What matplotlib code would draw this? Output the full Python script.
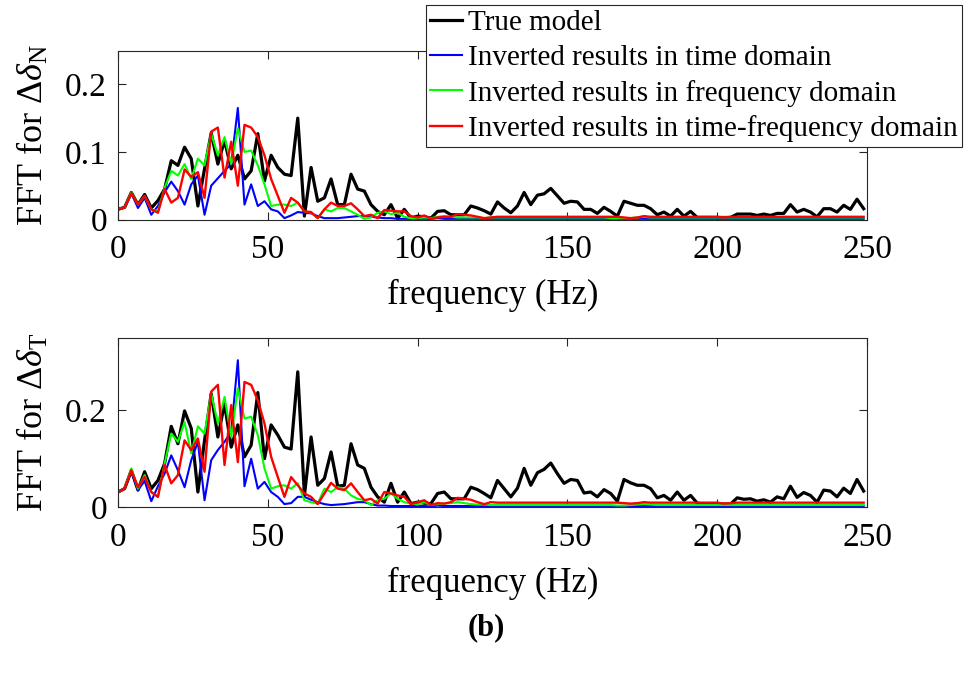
import numpy as np
import matplotlib
matplotlib.use("Agg")
import matplotlib.pyplot as plt

plt.rcParams['font.family'] = ['Liberation Serif', 'DejaVu Serif']
plt.rcParams['mathtext.fontset'] = 'custom'
plt.rcParams['mathtext.rm'] = 'Liberation Serif'
plt.rcParams['mathtext.it'] = 'Liberation Serif:italic'
plt.rcParams['mathtext.bf'] = 'Liberation Serif:bold'

# frequency grid (df = 500/225 Hz, 113 bins)
freq = np.arange(113) * 500 / 225

# FFT for delta_N (top panel)
top_true = [0.015, 0.018, 0.040, 0.022, 0.037, 0.017, 0.028, 0.045, 0.087, 0.080,
            0.107, 0.090, 0.020, 0.075, 0.128, 0.082, 0.117, 0.075, 0.095, 0.060,
            0.072, 0.127, 0.057, 0.095, 0.077, 0.067, 0.065, 0.150, 0.005, 0.077,
            0.027, 0.032, 0.060, 0.022, 0.022, 0.067, 0.045, 0.042, 0.022, 0.012,
            0.007, 0.022, 0.002, 0.015, 0.002, 0.005, 0.004, 0.002, 0.012, 0.013,
            0.007, 0.007, 0.007, 0.020, 0.017, 0.013, 0.008, 0.026, 0.017, 0.010,
            0.020, 0.040, 0.022, 0.036, 0.038, 0.046, 0.035, 0.024, 0.027, 0.026,
            0.015, 0.015, 0.009, 0.018, 0.012, 0.005, 0.027, 0.024, 0.021, 0.021,
            0.016, 0.007, 0.011, 0.005, 0.015, 0.005, 0.012, 0.003, 0.003, 0.003,
            0.003, 0.003, 0.003, 0.008, 0.008, 0.008, 0.006, 0.008, 0.006, 0.009,
            0.009, 0.022, 0.011, 0.015, 0.011, 0.004, 0.016, 0.016, 0.011, 0.021,
            0.015, 0.030, 0.016]
top_time = [0.015, 0.018, 0.039, 0.017, 0.032, 0.007, 0.020, 0.040, 0.056, 0.042,
            0.022, 0.052, 0.065, 0.007, 0.050, 0.061, 0.072, 0.082, 0.165, 0.022,
            0.052, 0.020, 0.027, 0.015, 0.012, 0.002, 0.006, 0.011, 0.010, 0.009,
            0.005, 0.002, 0.002, 0.002, 0.003, 0.004, 0.005, 0.005, 0.004, 0.003,
            0.002, 0.002, 0.001, 0.001, 0.001, 0.001, 0.001, 0.001, 0.002, 0.001,
            0.001, 0.001, 0.001, 0.001, 0.001, 0.001, 0.001, 0.001, 0.001, 0.001,
            0.001, 0.001, 0.001, 0.001, 0.001, 0.001, 0.001, 0.001, 0.001, 0.001,
            0.001, 0.001, 0.001, 0.001, 0.001, 0.001, 0.001, 0.001, 0.001, 0.001,
            0.001, 0.001, 0.001, 0.001, 0.001, 0.001, 0.001, 0.001, 0.001, 0.001,
            0.001, 0.001, 0.001, 0.001, 0.001, 0.001, 0.001, 0.001, 0.001, 0.001,
            0.001, 0.001, 0.001, 0.001, 0.001, 0.001, 0.001, 0.001, 0.001, 0.001,
            0.001, 0.001, 0.001]
top_freq = [0.015, 0.018, 0.040, 0.022, 0.035, 0.015, 0.012, 0.047, 0.072, 0.065,
            0.082, 0.060, 0.090, 0.080, 0.127, 0.095, 0.122, 0.082, 0.135, 0.100,
            0.102, 0.080, 0.052, 0.020, 0.022, 0.022, 0.020, 0.025, 0.012, 0.010,
            0.002, 0.015, 0.012, 0.017, 0.017, 0.012, 0.007, 0.001, 0.003, 0.010,
            0.012, 0.008, 0.010, 0.004, 0.002, 0.002, 0.003, 0.002, 0.004, 0.005,
            0.004, 0.003, 0.003, 0.003, 0.003, 0.002, 0.003, 0.003, 0.003, 0.003,
            0.003, 0.003, 0.003, 0.003, 0.003, 0.003, 0.003, 0.003, 0.003, 0.003,
            0.003, 0.003, 0.003, 0.003, 0.002, 0.002, 0.002, 0.002, 0.003, 0.004,
            0.003, 0.003, 0.003, 0.003, 0.003, 0.003, 0.003, 0.003, 0.003, 0.003,
            0.003, 0.003, 0.003, 0.003, 0.003, 0.003, 0.003, 0.003, 0.003, 0.003,
            0.003, 0.003, 0.003, 0.003, 0.003, 0.003, 0.003, 0.003, 0.003, 0.003,
            0.003, 0.003, 0.003]
top_tf = [0.015, 0.018, 0.039, 0.022, 0.035, 0.015, 0.010, 0.045, 0.025, 0.032,
          0.074, 0.063, 0.070, 0.032, 0.130, 0.136, 0.062, 0.115, 0.050, 0.140,
          0.136, 0.122, 0.095, 0.060, 0.035, 0.010, 0.032, 0.025, 0.012, 0.011,
          0.002, 0.015, 0.025, 0.020, 0.020, 0.024, 0.015, 0.005, 0.007, 0.002,
          0.014, 0.013, 0.012, 0.012, 0.005, 0.003, 0.006, 0.001, 0.003, 0.004,
          0.004, 0.008, 0.007, 0.006, 0.004, 0.002, 0.003, 0.004, 0.004, 0.004,
          0.004, 0.004, 0.004, 0.004, 0.004, 0.004, 0.004, 0.004, 0.004, 0.004,
          0.004, 0.004, 0.004, 0.004, 0.004, 0.004, 0.003, 0.002, 0.003, 0.005,
          0.004, 0.004, 0.004, 0.004, 0.004, 0.004, 0.004, 0.004, 0.004, 0.004,
          0.004, 0.003, 0.004, 0.004, 0.004, 0.004, 0.004, 0.004, 0.004, 0.004,
          0.004, 0.004, 0.004, 0.004, 0.004, 0.004, 0.004, 0.004, 0.004, 0.004,
          0.004, 0.004, 0.004]

# FFT for delta_T (bottom panel)
bot_true = [0.031, 0.038, 0.076, 0.035, 0.073, 0.038, 0.055, 0.090, 0.167, 0.131,
            0.199, 0.163, 0.031, 0.138, 0.235, 0.145, 0.214, 0.124, 0.170, 0.104,
            0.128, 0.237, 0.100, 0.170, 0.149, 0.124, 0.120, 0.280, 0.024, 0.145,
            0.045, 0.059, 0.114, 0.043, 0.045, 0.131, 0.087, 0.080, 0.041, 0.021,
            0.010, 0.049, 0.010, 0.031, 0.007, 0.010, 0.008, 0.007, 0.028, 0.031,
            0.017, 0.017, 0.017, 0.041, 0.036, 0.028, 0.019, 0.055, 0.038, 0.021,
            0.039, 0.080, 0.045, 0.071, 0.078, 0.091, 0.069, 0.049, 0.057, 0.055,
            0.029, 0.031, 0.021, 0.036, 0.028, 0.012, 0.057, 0.050, 0.045, 0.045,
            0.038, 0.019, 0.024, 0.014, 0.031, 0.014, 0.024, 0.008, 0.006, 0.006,
            0.006, 0.006, 0.006, 0.019, 0.016, 0.017, 0.012, 0.015, 0.010, 0.021,
            0.017, 0.043, 0.020, 0.030, 0.024, 0.010, 0.035, 0.033, 0.021, 0.039,
            0.028, 0.057, 0.033]
bot_time = [0.031, 0.038, 0.073, 0.035, 0.054, 0.012, 0.043, 0.069, 0.107, 0.076,
            0.041, 0.097, 0.135, 0.014, 0.097, 0.118, 0.135, 0.156, 0.304, 0.043,
            0.100, 0.038, 0.052, 0.031, 0.021, 0.006, 0.008, 0.021, 0.021, 0.015,
            0.010, 0.006, 0.004, 0.005, 0.006, 0.008, 0.010, 0.010, 0.006, 0.003,
            0.003, 0.002, 0.002, 0.002, 0.002, 0.002, 0.002, 0.001, 0.003, 0.002,
            0.002, 0.002, 0.002, 0.002, 0.002, 0.002, 0.002, 0.002, 0.002, 0.002,
            0.002, 0.002, 0.002, 0.002, 0.002, 0.002, 0.002, 0.002, 0.002, 0.002,
            0.002, 0.002, 0.002, 0.002, 0.002, 0.002, 0.002, 0.002, 0.002, 0.002,
            0.002, 0.002, 0.002, 0.002, 0.002, 0.002, 0.002, 0.002, 0.002, 0.002,
            0.002, 0.002, 0.002, 0.002, 0.002, 0.002, 0.002, 0.002, 0.002, 0.002,
            0.002, 0.002, 0.002, 0.002, 0.002, 0.002, 0.002, 0.002, 0.002, 0.002,
            0.002, 0.002, 0.002]
bot_freq = [0.031, 0.038, 0.080, 0.038, 0.066, 0.031, 0.021, 0.090, 0.152, 0.135,
            0.176, 0.111, 0.167, 0.152, 0.235, 0.173, 0.228, 0.145, 0.246, 0.183,
            0.187, 0.149, 0.080, 0.038, 0.043, 0.045, 0.038, 0.049, 0.014, 0.010,
            0.007, 0.038, 0.031, 0.041, 0.038, 0.024, 0.017, 0.014, 0.004, 0.014,
            0.017, 0.028, 0.017, 0.010, 0.007, 0.005, 0.010, 0.004, 0.006, 0.007,
            0.008, 0.010, 0.008, 0.006, 0.005, 0.005, 0.004, 0.004, 0.004, 0.004,
            0.004, 0.004, 0.004, 0.004, 0.004, 0.004, 0.004, 0.004, 0.004, 0.004,
            0.004, 0.004, 0.004, 0.004, 0.004, 0.003, 0.003, 0.004, 0.005, 0.006,
            0.005, 0.004, 0.004, 0.004, 0.004, 0.004, 0.004, 0.004, 0.004, 0.004,
            0.004, 0.004, 0.004, 0.004, 0.004, 0.004, 0.004, 0.004, 0.004, 0.004,
            0.004, 0.004, 0.004, 0.004, 0.004, 0.004, 0.004, 0.004, 0.004, 0.004,
            0.004, 0.004, 0.004]
bot_tf = [0.031, 0.038, 0.076, 0.041, 0.062, 0.031, 0.021, 0.087, 0.049, 0.066,
          0.138, 0.118, 0.142, 0.073, 0.239, 0.253, 0.087, 0.211, 0.093, 0.259,
          0.253, 0.221, 0.173, 0.104, 0.062, 0.021, 0.062, 0.045, 0.028, 0.021,
          0.006, 0.028, 0.050, 0.038, 0.035, 0.049, 0.031, 0.014, 0.017, 0.007,
          0.031, 0.028, 0.024, 0.021, 0.006, 0.010, 0.014, 0.004, 0.008, 0.007,
          0.010, 0.019, 0.017, 0.015, 0.010, 0.006, 0.010, 0.009, 0.009, 0.009,
          0.009, 0.009, 0.009, 0.009, 0.009, 0.009, 0.009, 0.009, 0.009, 0.009,
          0.009, 0.009, 0.009, 0.009, 0.009, 0.009, 0.008, 0.007, 0.008, 0.010,
          0.009, 0.009, 0.009, 0.009, 0.009, 0.009, 0.009, 0.009, 0.009, 0.009,
          0.009, 0.007, 0.008, 0.009, 0.009, 0.009, 0.009, 0.009, 0.009, 0.009,
          0.009, 0.009, 0.009, 0.009, 0.009, 0.009, 0.009, 0.009, 0.009, 0.009,
          0.009, 0.009, 0.009]

labels = ["True model",
          "Inverted results in time domain",
          "Inverted results in frequency domain",
          "Inverted results in time-frequency domain"]
colors = ["black", "#0000ff", "#00ff00", "#ff0000"]
widths = [2.3, 1.5, 1.5, 1.7]

W, H = 973, 675
fig = plt.figure(figsize=(W / 100, H / 100), dpi=100)
ax1 = fig.add_axes([118 / W, 1 - 219.5 / H, (867 - 118) / W, (219.5 - 50.5) / H])
ax2 = fig.add_axes([118 / W, 1 - 507 / H, (867 - 118) / W, (507 - 338) / H])

panels = [
    (ax1, [top_true, top_time, top_freq, top_tf], 0.25, [0, 0.1, 0.2], ["0", "0.1", "0.2"],
     r"FFT for $\Delta\delta_{\mathrm{N}}$"),
    (ax2, [bot_true, bot_time, bot_freq, bot_tf], 0.35, [0, 0.2], ["0", "0.2"],
     r"FFT for $\Delta\delta_{\mathrm{T}}$"),
]

for ax, series, ymax, yt, ytl, ylab in panels:
    for s, c, lw, lab in zip(series, colors, widths, labels):
        ax.plot(freq, s, color=c, lw=lw, label=lab)
    ax.set_xlim(0, 250)
    ax.set_ylim(0, ymax)
    ax.set_xticks([0, 50, 100, 150, 200, 250])
    ax.set_yticks(yt)
    ax.set_yticklabels(ytl)
    ax.tick_params(direction="in", top=True, right=True, length=6, width=0.8,
                   labelsize=24, colors="#262626", labelcolor="black")
    ax.tick_params(axis="x", pad=11)
    ax.tick_params(axis="y", pad=8)
    for sp in ax.spines.values():
        sp.set_linewidth(0.8)
        sp.set_color("#262626")
    ax.set_xlabel("frequency (Hz)", fontsize=25, labelpad=10)
    ax.set_ylabel(ylab, fontsize=26, labelpad=10)

handles, labs = ax1.get_legend_handles_labels()
leg = fig.legend(handles, labs, loc="upper right", bbox_to_anchor=(962 / W, 1 - 5 / H),
                 fontsize=21, frameon=True, fancybox=False, framealpha=1,
                 edgecolor="#262626", handlelength=1.1, handletextpad=0.2,
                 labelspacing=0.3, borderpad=0.15, borderaxespad=0)
leg.get_frame().set_linewidth(0.8)

fig.text(486 / W, 1 - 628 / H, "(b)", ha="center", va="center",
         fontsize=22, fontweight="bold")

fig.savefig("out.png", dpi=100)
